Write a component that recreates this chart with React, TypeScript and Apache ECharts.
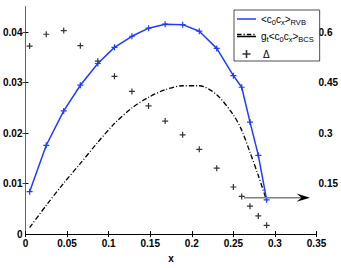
import React, { useEffect, useRef } from 'react';
import * as echarts from 'echarts';

// x positions of the computed points
const xValues = [0.005, 0.025, 0.046, 0.066, 0.087, 0.107, 0.128, 0.148, 0.168, 0.189, 0.209, 0.23, 0.25, 0.26, 0.27, 0.28, 0.29];
// <c0 cx>_RVB (left axis)
const rvbValues = [0.0084, 0.0176, 0.0244, 0.0295, 0.0338, 0.037, 0.0392, 0.0408, 0.0416, 0.0415, 0.0402, 0.0368, 0.0314, 0.0291, 0.0222, 0.0156, 0.0068];
// g_t <c0 cx>_BCS (left axis)
const bcsValues = [0.0013, 0.0057, 0.0101, 0.014, 0.0182, 0.0219, 0.025, 0.0271, 0.0286, 0.0294, 0.0294, 0.0276, 0.0236, 0.0206, 0.0162, 0.0116, 0.0066];
// Delta (right axis)
const deltaValues = [0.559, 0.594, 0.605, 0.56, 0.514, 0.469, 0.424, 0.381, 0.336, 0.295, 0.252, 0.196, 0.14, 0.112, 0.083, 0.054, 0.026];

const legendLabels: Record<string, string> = {
  RVB: '{n|<c}{s|0}{n|c}{s|x}{n|>}{s|RVB}',
  BCS: '{n|g}{s|t}{n|<c}{s|0}{n|c}{s|x}{n|>}{s|BCS}',
  Delta: '{d|\u0394}',
};

const PLUS = 'path://M2.4,0h1.2v2.4h2.4v1.2h-2.4v2.4h-1.2v-2.4h-2.4v-1.2h2.4z';
const SOLID_ICON = 'path://M0,0h19v1.5h-19z';
const FONT = 'Liberation Sans';

const axisLabelStyle = {
  fontSize: 10,
  fontWeight: 'bold' as const,
  fontFamily: FONT,
  color: '#000',
};

const fmt = (v: number) => String(Number(v.toFixed(3)));

export default function App() {
  const ref = useRef<HTMLDivElement>(null);
  useEffect(() => {
    if (!ref.current) return;
    const chart = echarts.init(ref.current, undefined, { renderer: 'svg' });
    chart.setOption({
      animation: false,
      backgroundColor: '#fff',
      grid: { left: 21, right: 23, top: 7, bottom: 25, containLabel: false },
      xAxis: [
        {
          type: 'value', position: 'bottom', min: 0, max: 0.35, interval: 0.05,
          name: 'x', nameLocation: 'middle', nameGap: 12,
          nameTextStyle: { ...axisLabelStyle },
          axisLine: { lineStyle: { color: '#000', width: 1 } },
          axisTick: { inside: true, length: 3, lineStyle: { color: '#000' } },
          axisLabel: { ...axisLabelStyle, margin: 4, formatter: fmt },
          splitLine: { show: false },
        },
        {
          type: 'value', position: 'top', min: 0, max: 0.35, interval: 0.05,
          axisLine: { lineStyle: { color: '#000', width: 1 } },
          axisTick: { inside: true, length: 3, lineStyle: { color: '#000' } },
          axisLabel: { show: false },
          splitLine: { show: false },
        },
      ],
      yAxis: [
        {
          type: 'value', position: 'left', min: 0, max: 0.045, interval: 0.01,
          axisLine: { show: true, lineStyle: { color: '#000', width: 1 } },
          axisTick: { show: true, inside: true, length: 3, lineStyle: { color: '#000' } },
          axisLabel: { ...axisLabelStyle, margin: 3, showMaxLabel: false, formatter: fmt },
          splitLine: { show: false },
        },
        {
          type: 'value', position: 'right', min: 0, max: 0.675, interval: 0.15,
          axisLine: { show: true, lineStyle: { color: '#666', width: 1 } },
          axisTick: { show: true, inside: true, length: 3, lineStyle: { color: '#444' } },
          axisLabel: { ...axisLabelStyle, margin: 2, showMinLabel: false, showMaxLabel: false, formatter: fmt },
          splitLine: { show: false },
        },
      ],
      legend: {
        orient: 'vertical',
        left: 234,
        top: 10,
        padding: [4, 6, 2, 3],
        itemGap: 5.5,
        itemWidth: 19,
        itemHeight: 8,
        backgroundColor: '#fff',
        borderColor: '#222',
        borderWidth: 0.8,
        borderRadius: 0,
        data: [
          { name: 'RVB', icon: SOLID_ICON },
          { name: 'BCS', icon: SOLID_ICON, itemStyle: { color: '#000' } },
          { name: 'Delta', icon: PLUS },
        ],
        formatter: (name: string) => legendLabels[name],
        textStyle: {
          fontFamily: FONT,
          fontSize: 10,
          color: '#000',
          rich: {
            n: { fontFamily: FONT, fontSize: 10, color: '#000' },
            s: { fontFamily: FONT, fontSize: 7.5, color: '#000', padding: [6, 0, 0, 0] },
            d: { fontFamily: FONT, fontSize: 10, color: '#000', lineHeight: 14, padding: [0, 0, 0, 2] },
          },
        },
      },
      series: [
        {
          name: 'RVB', type: 'line', xAxisIndex: 0, yAxisIndex: 0,
          data: xValues.map((x, i) => [x, rvbValues[i]]),
          symbol: PLUS, symbolSize: 6, showSymbol: true,
          itemStyle: { color: '#1f3cff' },
          lineStyle: { color: '#1f3cff', width: 1.5 },
          z: 3,
        },
        {
          name: 'BCS', type: 'line', xAxisIndex: 0, yAxisIndex: 0,
          data: xValues.map((x, i) => [x, bcsValues[i]]),
          symbol: 'circle', showSymbol: false, smooth: 0.3,
          itemStyle: { color: '#000' },
          lineStyle: { color: '#000', width: 1.3, type: [5, 2, 1, 2] },
          z: 2,
        },
        {
          name: 'Delta', type: 'scatter', xAxisIndex: 0, yAxisIndex: 1,
          data: xValues.map((x, i) => [x, deltaValues[i]]),
          symbol: PLUS, symbolSize: 6,
          itemStyle: { color: '#000' },
          z: 2,
        },
      ],
      graphic: [
        {
          // dash-dot sample for the second legend entry
          type: 'line', z: 100, zlevel: 0,
          shape: { x1: 237, y1: 34.5, x2: 256, y2: 34.5 },
          style: { stroke: '#000', lineWidth: 1.3, lineDash: [4.5, 2, 1.3, 2] },
        },
        {
          type: 'line', z: 10,
          shape: { x1: 244, y1: 197.7, x2: 305, y2: 197.7 },
          style: { stroke: '#808080', lineWidth: 1.5 },
        },
        {
          type: 'polygon', z: 11,
          shape: { points: [[310, 197.7], [296.5, 193.6], [301.5, 197.7], [296.5, 201.8]] },
          style: { fill: '#000' },
        },
      ],
    });
    return () => chart.dispose();
  }, []);
  return (
    <div
      ref={ref}
      style={{ position: 'fixed', left: 0, top: 0, width: 341, height: 268, background: '#fff' }}
    />
  );
}
